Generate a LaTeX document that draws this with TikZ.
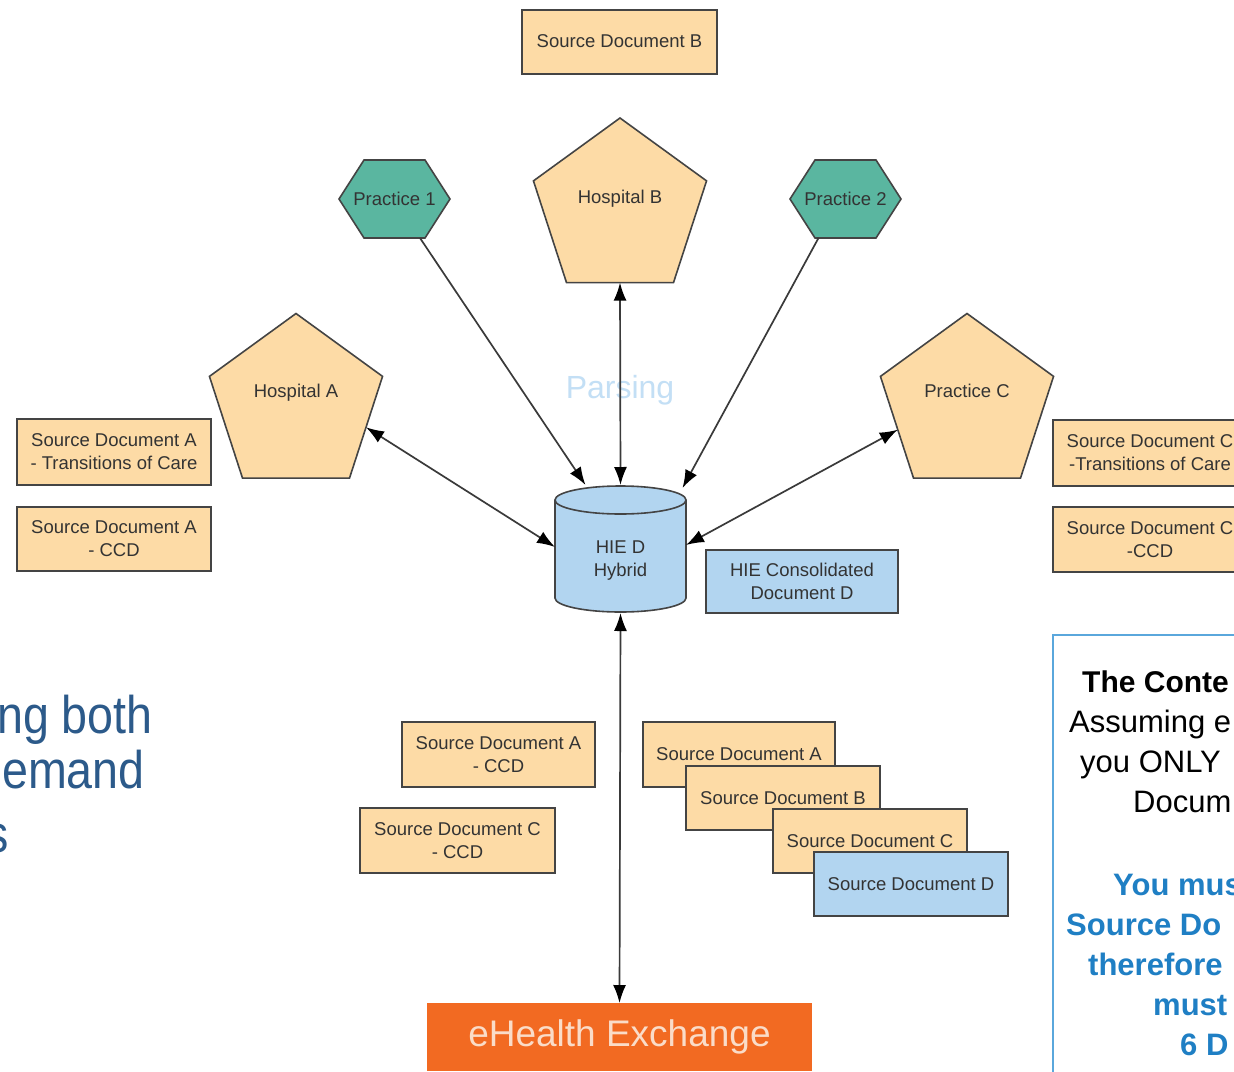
\documentclass[tikz,border=0pt]{standalone}
\usepackage{fontspec}
\setmainfont{Liberation Sans}
\usepackage{graphicx}
\usetikzlibrary{arrows.meta,shapes.geometric}
\definecolor{peach}{HTML}{FDDBA6}
\definecolor{hexteal}{HTML}{5AB6A0}
\definecolor{docblue}{HTML}{B2D5F0}
\definecolor{ehorange}{HTML}{F26A22}
\definecolor{ehtext}{HTML}{FADCC8}
\definecolor{boxline}{HTML}{444444}
\definecolor{txtgray}{HTML}{333333}
\definecolor{parsecol}{HTML}{C3DFF5}
\definecolor{slideblue}{HTML}{2C5A8A}
\definecolor{rightblue}{HTML}{5AA7DC}
\definecolor{notebold}{HTML}{1F7FC4}
\definecolor{conncol}{HTML}{3A3A3A}
\tikzset{
  x=1pt, y=-1pt,
  boxfont/.style={font=\fontsize{18.5}{23}\selectfont},
  docbox/.style={draw=boxline, line width=1.8pt, fill=peach, inner sep=0pt, outer sep=0pt,
    minimum width=194pt, minimum height=65pt, align=center, text=txtgray, boxfont},
  bluebox/.style={docbox, fill=docblue},
  pent/.style={regular polygon, regular polygon sides=5, minimum size=182pt, draw=boxline,
    line width=1.6pt, fill=peach, inner sep=0pt, outer sep=0pt, text=txtgray, boxfont},
  hexa/.style={draw=boxline, line width=1.6pt, fill=hexteal},
  hexlabel/.style={inner sep=0pt, outer sep=0pt, minimum width=111pt, minimum height=78pt,
    text=txtgray, boxfont},
  conn/.style={draw=conncol, line width=1.7pt},
  twoway/.style={conn, {Latex[length=18pt,width=13pt,black]}-{Latex[length=18pt,width=13pt,black]}},
  oneway/.style={conn, -{Latex[length=18pt,width=13pt,black]}},
  slidetext/.style={anchor=base east, inner sep=0pt, text=slideblue, font=\fontsize{53}{60}\selectfont},
  notetext/.style={anchor=base west, inner sep=0pt, text=black, font=\fontsize{31}{36}\selectfont},
  noteblue/.style={anchor=base west, inner sep=0pt, text=notebold, font=\fontsize{31}{36}\selectfont\bfseries},
}
\begin{document}
\begin{tikzpicture}
\useasboundingbox (0,0) rectangle (1234,1071);
\clip (0,0) rectangle (1234,1071);
\fill[white] (0,0) rectangle (1234,1071);

% left slide text (cut off)
\node[slidetext] (sl1) at (153,733) {\scalebox{0.88}[1]{ng both}};
\node[slidetext] (sl2) at (145,788) {\scalebox{0.88}[1]{emand}};
\node[slidetext] (sl3) at (9,852) {\scalebox{0.88}[1]{s}};

% right note box (cut off)
\draw[rightblue, line width=2.5pt, fill=white] (1053,635) rectangle (1300,1100);
\node[notetext, font=\fontsize{30}{36}\selectfont\bfseries] (n1) at (1082,692) {The Conte};
\node[notetext] (n2) at (1069,732) {Assuming e};
\node[notetext] (n3) at (1080,772) {you ONLY};
\node[notetext] (n4) at (1133,812) {Docum};
\node[noteblue] (n5) at (1113,895) {You mus};
\node[noteblue] (n6) at (1066,935) {Source Do};
\node[noteblue] (n7) at (1088,975) {therefore};
\node[noteblue] (n8) at (1153,1015) {must};
\node[noteblue] (n9) at (1180,1055) {6 D};

% top source doc
\node[docbox, minimum height=64pt, minimum width=195pt] (sdB) at (619.5,42) {\raisebox{1.5pt}{Source Document B}};

% pentagons
\node[pent] (hB) at (620,209) {\raisebox{6pt}[0pt][0pt]{Hospital B}};
\node[pent] (hA) at (296,404.5) {\raisebox{7pt}[0pt][0pt]{Hospital A}};
\node[pent] (pC) at (967,404.5) {\raisebox{7pt}[0pt][0pt]{Practice C}};

% hexagons
\draw[hexa] (339,199) -- (364,160) -- (425,160) -- (450,199) -- (425,238) -- (364,238) -- cycle;
\node[hexlabel] (p1) at (394.5,199) {\raisebox{1pt}{Practice 1}};
\draw[hexa] (790,199) -- (815,160) -- (876,160) -- (901,199) -- (876,238) -- (815,238) -- cycle;
\node[hexlabel] (p2) at (845.5,199) {\raisebox{1pt}{Practice 2}};

% side source docs
\node[docbox, minimum height=66pt] (sdAtoc) at (114,452) {Source Document A\\- Transitions of Care};
\node[docbox, minimum height=64pt] (sdAccd) at (114,539) {Source Document A\\- CCD};
\node[docbox, minimum height=66pt] (sdCtoc) at (1150,453) {Source Document C\\-Transitions of Care};
\node[docbox, minimum height=65pt] (sdCccd) at (1150,539.5) {Source Document C\\-CCD};

% parsing label
\node[text=parsecol, font=\fontsize{32}{36}\selectfont, inner sep=0pt] (parse) at (620,390) {Parsing};

% cylinder
\fill[docblue] (555,500) -- (555,598) arc[start angle=180, end angle=0, x radius=65.5, y radius=14]
  -- (686,500) arc[start angle=0, end angle=-180, x radius=65.5, y radius=14] -- cycle;
\draw[boxline, line width=1.6pt] (555,500) -- (555,598) arc[start angle=180, end angle=0, x radius=65.5, y radius=14] -- (686,500);
\draw[boxline, line width=1.6pt] (620.5,500) ellipse[x radius=65.5, y radius=14];
\node[inner sep=0pt, outer sep=0pt, minimum width=131pt, minimum height=128pt, align=center, text=txtgray, boxfont] (cyl) at (620.5,549)
  {\raisebox{-16pt}[0pt][0pt]{\begin{tabular}{@{}c@{}}HIE D\\[0pt]Hybrid\end{tabular}}};

\node[bluebox, minimum width=192pt, minimum height=63pt] (hiecons) at (802,581.5) {HIE Consolidated\\Document D};

% lower docs
\node[docbox, minimum width=193pt] (mAccd) at (498.5,754.5) {Source Document A\\- CCD};
\node[docbox, minimum width=195pt] (mCccd) at (457.5,840.5) {Source Document C\\- CCD};

\node[docbox, minimum width=192pt] (stA) at (739,754.5) {Source Document A};
\node[docbox, minimum height=64pt] (stB) at (783,798) {Source Document B};
\node[docbox, minimum height=64pt] (stC) at (870,841) {Source Document C};
\node[bluebox, minimum height=64pt] (stD) at (911,884) {Source Document D};

% eHealth Exchange
\node[fill=ehorange, inner sep=0pt, outer sep=0pt, minimum width=385pt, minimum height=68pt,
  text=ehtext, font=\fontsize{37}{40}\selectfont] (eh) at (619.5,1037)
  {\raisebox{-9pt}[0pt][0pt]{eHealth Exchange}};

% connectors
\draw[twoway] (hA.-18) -- ([yshift=2pt]cyl.west);
\draw[oneway] ([xshift=-30pt]p1.south east) -- ([xshift=-35pt]cyl.north);
\draw[twoway] (hB.south) -- (cyl.north);
\draw[oneway] ([xshift=-27pt]p2.south) -- ([xshift=62pt,yshift=-3pt]cyl.north);
\draw[twoway] (pC.200) -- ([yshift=4pt]cyl.east);
\draw[twoway] (cyl.south) -- (eh.north);
\end{tikzpicture}
\end{document}
